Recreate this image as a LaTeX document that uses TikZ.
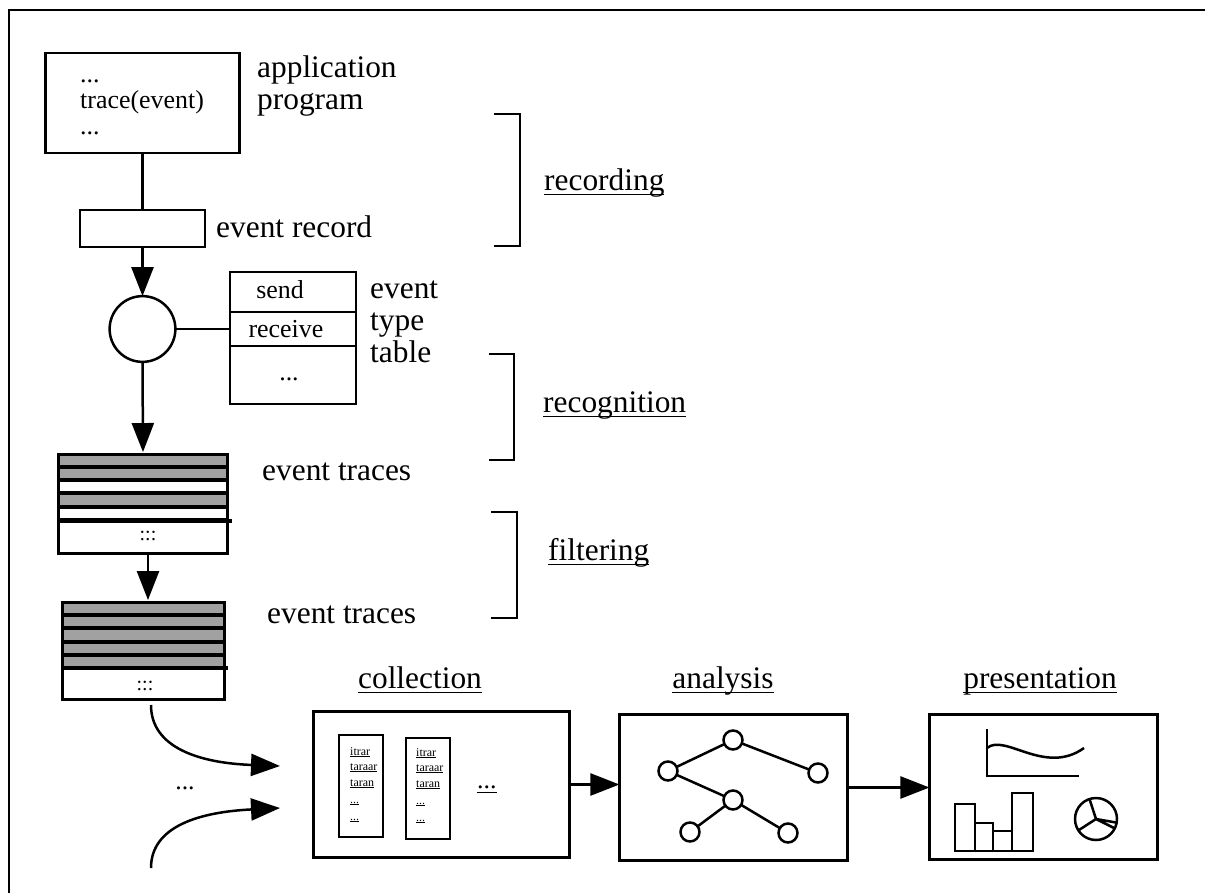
\documentclass[tikz,border=0pt]{standalone}
\usepackage{fontspec}
\setmainfont{Liberation Serif}
\usetikzlibrary{arrows.meta,calc}
\newcommand\ulbig[1]{\setbox0\hbox{#1}\rlap{\vrule width\wd0 height -3.6pt depth 5.3pt}\box0}
\newcommand\ulsmall[1]{\setbox0\hbox{#1}\rlap{\vrule width\wd0 height -1.3pt depth 2.2pt}\box0}
\begin{document}
\begin{tikzpicture}[x=1bp,y=-1bp,
  ln/.style={line width=2.5bp},
  box/.style={draw, line width=2.5bp, inner sep=0, outer sep=0},
  big/.style={font=\fontsize{31.5}{36}\selectfont, inner sep=0},
  mid/.style={font=\fontsize{26}{30}\selectfont, inner sep=0},
  dots/.style={font=\fontsize{20}{24}\selectfont, inner sep=0},
  tiny/.style={font=\fontsize{12}{14}\selectfont, inner sep=0},
  arr/.style={line width=2.5bp, -{Triangle[length=29bp,width=22bp]}},
  grayrow/.style={box, fill=black!37, line width=3bp},
  whiterow/.style={box, fill=white, line width=3bp},
  tnode/.style={circle, draw, line width=2.5bp, minimum size=19bp, inner sep=0, outer sep=0},
  brk/.style={line width=2.5bp}
]
\useasboundingbox (0,0) rectangle (1205,893);
\clip (0,0) rectangle (1205,893);
\draw[line width=2.5bp] (9,10) rectangle (1240,930);

% application program
\node[box, minimum width=195, minimum height=100] (app) at (142.5,103) {};
\node[mid, anchor=base west] (d1) at (80,82) {...};
\node[mid, anchor=base west] (tr) at (80,108) {trace(event)};
\node[mid, anchor=base west] (d2) at (80,134) {...};
\node[big, anchor=base west] (appl1) at (257,77) {application};
\node[big, anchor=base west] (appl2) at (257,109) {program};

% event record
\node[box, minimum width=125, minimum height=37] (rec) at (142.5,228.5) {};
\node[big, anchor=base west] (reclbl) at (216,237) {event record};
\draw[ln] (app.south) -- (rec.north);

% recognizer circle and table
\node[circle, draw, line width=2.5bp, minimum size=66, inner sep=0, outer sep=0] (circ) at (142.5,329) {};
\draw[arr] (rec.south) -- (circ.north);
\node[box, minimum width=126, minimum height=40] (tsend) at (293,292) {};
\node[box, minimum width=126, minimum height=34] (trecv) at (293,329) {};
\node[box, minimum width=126, minimum height=58] (tmore) at (293,375) {};
\node[mid, anchor=base] (sendt) at (280,298) {send};
\node[mid, anchor=base] (recvt) at (286,337) {receive};
\node[mid, anchor=base] (moret) at (289,380) {...};
\draw[ln] (circ.east) -- (trecv.west);
\node[big, anchor=base west] (ett1) at (370,298) {event};
\node[big, anchor=base west] (ett2) at (370,330) {type};
\node[big, anchor=base west] (ett3) at (370,362) {table};

% event trace stack 1
\node[grayrow, minimum width=170, minimum height=13] (s1a) at (143,460.5) {};
\node[grayrow, minimum width=170, minimum height=13] (s1b) at (143,473.5) {};
\node[whiterow, minimum width=170, minimum height=13] (s1c) at (143,486.5) {};
\node[grayrow, minimum width=170, minimum height=14] (s1d) at (143,500) {};
\node[whiterow, minimum width=170, minimum height=13] (s1e) at (143,513.5) {};
\node[whiterow, minimum width=170, minimum height=33] (s1f) at (143,537.5) {};
\draw[line width=3.5bp] (s1f.north west) -- ($(s1f.north east)+(4,0)$);
\node[dots, anchor=base] (s1dots) at (148,540) {:::};
\draw[arr] (circ.south) -- ($(s1a.north)+(0,-2)$);
\node[big, anchor=base west] (et1) at (262,480) {event traces};

% event trace stack 2
\node[grayrow, minimum width=163, minimum height=13] (s2a) at (143.5,608.5) {};
\node[grayrow, minimum width=163, minimum height=13] (s2b) at (143.5,621.5) {};
\node[grayrow, minimum width=163, minimum height=14] (s2c) at (143.5,635) {};
\node[grayrow, minimum width=163, minimum height=13] (s2d) at (143.5,648.5) {};
\node[grayrow, minimum width=163, minimum height=13] (s2e) at (143.5,661.5) {};
\node[whiterow, minimum width=163, minimum height=32] (s2f) at (143.5,684) {};
\draw[line width=3.5bp] (s2f.north west) -- ($(s2f.north east)+(3,0)$);
\node[dots, anchor=base] (s2dots) at (145,690) {:::};
\draw[arr] ($(s1f.south)+(5,0)$) -- ($(s2a.north)+(4.5,-2)$);
\node[big, anchor=base west] (et2) at (267,623) {event traces};

% brackets and stage labels
\draw[brk] (494,114) -- (520,114) -- (520,246) -- (494,246);
\node[big, anchor=base west] (lrec) at (544,190) {\ulbig{recording}};
\draw[brk] (489,354) -- (514,354) -- (514,460) -- (489,460);
\node[big, anchor=base west] (lrecog) at (543,412) {\ulbig{recognition}};
\draw[brk] (491,512) -- (517,512) -- (517,618) -- (491,618);
\node[big, anchor=base west] (lfilt) at (548,560) {\ulbig{filtering}};

% incoming curved arrows
\coordinate (cs1) at (151,705);
\coordinate (cs2) at (151,868);
\coordinate (ct1) at (280,766);
\coordinate (ct2) at (280,808);
\draw[arr] (cs1) .. controls (151,748) and (200,763) .. (ct1);
\draw[arr] (cs2) .. controls (151,826) and (200,812) .. (ct2);
\node[mid, anchor=base] (indots) at (185,789) {...};

% collection
\node[box, minimum width=257, minimum height=147] (coll) at (441.5,784.5) {};
\node[big, anchor=base] (lcoll) at (420,688) {\ulbig{collection}};
\node[box, minimum width=44, minimum height=102] (cb1) at (361,786) {};
\node[box, minimum width=44, minimum height=101] (cb2) at (428,788.5) {};
\node[tiny, anchor=base west] (c1a) at (350,755) {\ulsmall{itrar}};
\node[tiny, anchor=base west] (c1b) at (350,770) {\ulsmall{taraar}};
\node[tiny, anchor=base west] (c1c) at (350,786) {\ulsmall{taran}};
\node[tiny, anchor=base west] (c1d) at (350,803) {\ulsmall{...}};
\node[tiny, anchor=base west] (c1e) at (350,820) {\ulsmall{...}};
\node[tiny, anchor=base west] (c2a) at (416,756) {\ulsmall{itrar}};
\node[tiny, anchor=base west] (c2b) at (416,771) {\ulsmall{taraar}};
\node[tiny, anchor=base west] (c2c) at (416,787) {\ulsmall{taran}};
\node[tiny, anchor=base west] (c2d) at (416,804) {\ulsmall{...}};
\node[tiny, anchor=base west] (c2e) at (416,821) {\ulsmall{...}};
\node[mid, anchor=base west] (cdots) at (477,788) {\ulbig{...}};

% analysis
\node[box, minimum width=229, minimum height=147] (ana) at (733.5,787.5) {};
\node[big, anchor=base] (lana) at (723,688) {\ulbig{analysis}};
\node[tnode] (n1) at (733,740) {};
\node[tnode] (n2) at (668,771) {};
\node[tnode] (n3) at (818,773) {};
\node[tnode] (n4) at (733,800) {};
\node[tnode] (n5) at (690,832) {};
\node[tnode] (n6) at (788,833) {};
\draw[ln] (n1) -- (n2) (n1) -- (n3) (n2) -- (n4) (n4) -- (n5) (n4) -- (n6);
\draw[arr] (coll.east) -- (coll.east -| ana.west);

% presentation
\node[box, minimum width=229, minimum height=146] (pres) at (1043.5,787) {};
\node[big, anchor=base] (lpres) at (1040,688) {\ulbig{presentation}};
\draw[arr] (ana.east) -- (ana.east -| pres.west);
\draw[ln] (987,729) -- (987,776) -- (1079,776);
\draw[ln] (987,748) .. controls (1005,733) and (1045,776) .. (1084,748);
\draw[ln] (955,804) rectangle (975,851);
\draw[ln] (975,823) rectangle (993,851);
\draw[ln] (993,831) rectangle (1012,851);
\draw[ln] (1012,793) rectangle (1033,851);
\draw[ln] (1096,819) circle (21);
\draw[ln] (1096,819) -- (1089.5,799) (1096,819) -- (1079,830) (1096,819) -- (1116,822.5) (1096,819) -- (1114,828);
\end{tikzpicture}
\end{document}
